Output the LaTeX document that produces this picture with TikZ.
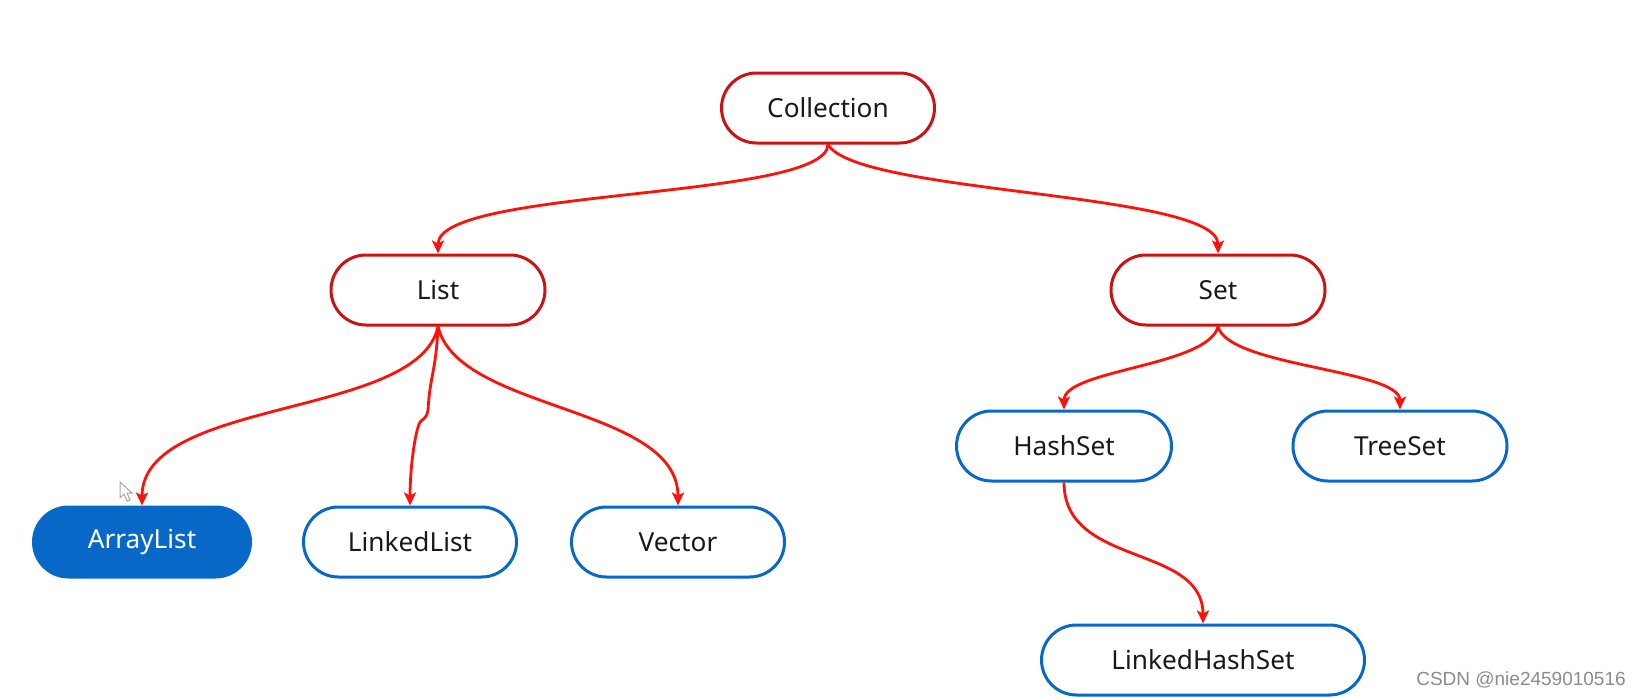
\documentclass[tikz,border=0pt]{standalone}
\usepackage{fontspec}
\setmainfont{Noto Sans}
\newfontfamily\wmfont{Liberation Sans}
\usetikzlibrary{arrows.meta}
\definecolor{nodered}{RGB}{204,18,18}
\definecolor{arrred}{RGB}{255,16,8}
\definecolor{nodeblue}{RGB}{8,104,200}
\definecolor{wmgray}{RGB}{140,140,140}
\tikzset{
  base/.style={rounded corners=17.5pt, minimum height=35pt, inner sep=0pt,
    line width=1.5pt, font=\fontsize{13.1}{15}\selectfont, text=black!90},
  rednode/.style={base, draw=nodered, fill=white},
  bluenode/.style={base, draw=nodeblue, fill=white},
  bluefill/.style={base, draw=nodeblue, fill=nodeblue, text=white},
  link/.style={draw=arrred, line width=1.4pt,
    -{Stealth[length=6.5pt,width=6pt,inset=1.5pt]}},
}
\begin{document}
\begin{tikzpicture}[x=0.5pt,y=-0.5pt]
\useasboundingbox[fill=white] (0,0) rectangle (1639,697);

\node[rednode, minimum width=106.5pt] (coll) at (828,108) {Collection};
\node[rednode, minimum width=107pt] (list) at (438,290) {List};
\node[rednode, minimum width=107pt] (set) at (1218,290) {Set};
\node[bluenode, minimum width=107.5pt] (hashset) at (1064,446) {HashSet};
\node[bluenode, minimum width=107pt] (treeset) at (1400,446) {TreeSet};
\node[bluefill, minimum width=108.5pt] (arraylist) at (142,542) {ArrayList};
\node[bluenode, minimum width=106.5pt] (linkedlist) at (410,542) {LinkedList};
\node[bluenode, minimum width=106.5pt] (vector) at (678,542) {Vector};
\node[bluenode, minimum width=161.5pt] (lhs) at (1203,660) {LinkedHashSet};

\coordinate (k1) at (428,410);
\coordinate (k2) at (421,421);

\draw[link] (coll.south) .. controls +(-2,56) and +(0,-66) .. (list.north);
\draw[link] (coll.south) .. controls +(29,50) and +(0,-62) .. (set.north);
\draw[link] (list.south) .. controls +(-19,92) and +(0,-108) .. (arraylist.north);
\draw[link] (list.south) .. controls +(-2,45) and +(2,-35) .. (k1)
  .. controls +(-1,6) and +(4,-3) .. (k2)
  .. controls +(-5,4) and +(0,-40) .. (linkedlist.north);
\draw[link] (list.south) .. controls +(20,85) and +(0,-100) .. (vector.north);
\draw[link] (set.south) .. controls +(-10,40) and +(0,-40) .. (hashset.north);
\draw[link] (set.south) .. controls +(10,40) and +(0,-40) .. (treeset.north);
\draw[link] (hashset.south) .. controls +(0,85) and +(0,-80) .. (lhs.north);

% mouse cursor
\draw[gray!70, line width=0.5pt, fill=white] (120,482) -- (120,498) -- (124,494) -- (127,501) -- (130,500) -- (127,493) -- (132,493) -- cycle;

\node[font=\wmfont\fontsize{9.5}{11}\selectfont, text=wmgray, inner sep=0pt] (wm) at (1521,680) {CSDN @nie2459010516};
\end{tikzpicture}
\end{document}
